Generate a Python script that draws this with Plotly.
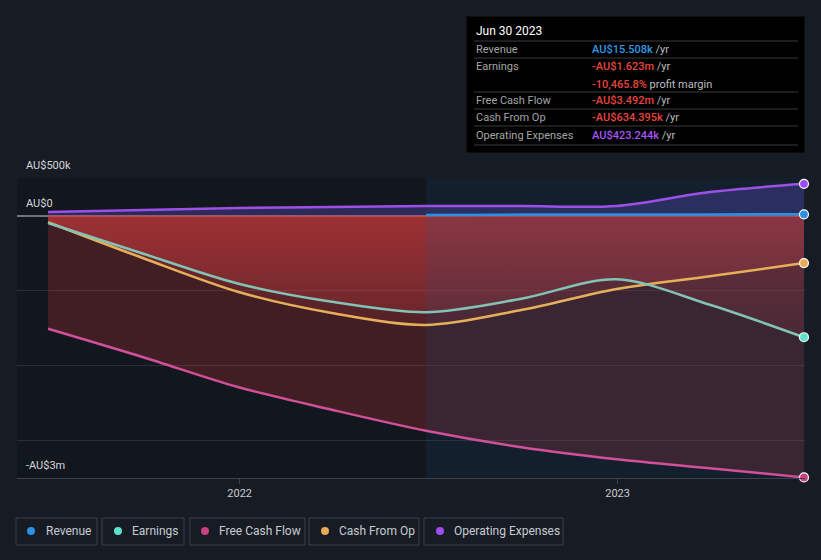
import plotly.graph_objects as go

# ---------------- data (AU$ millions) ----------------
dates = ["2021-06-30", "2021-09-30", "2021-12-31", "2022-03-31", "2022-06-30",
         "2022-09-30", "2022-12-31", "2023-03-31", "2023-06-30"]
revenue = [None, None, None, None, 0.008, 0.012, 0.014, 0.015, 0.0155]
earnings = [-0.10, -0.51, -0.91, -1.15, -1.29, -1.11, -0.85, -1.19, -1.623]
free_cash_flow = [-1.51, -1.89, -2.29, -2.59, -2.87, -3.09, -3.25, -3.37, -3.492]
cash_from_op = [-0.09, -0.57, -1.02, -1.30, -1.46, -1.26, -0.98, -0.81, -0.634]
operating_expenses = [0.047, 0.073, 0.10, 0.113, 0.127, 0.127, 0.127, 0.313, 0.423]

series_names = ["Revenue", "Earnings", "Free Cash Flow", "Cash From Op", "Operating Expenses"]
x_ticks = ["2022-01-01", "2023-01-01"]
x_tick_labels = ["2022", "2023"]
y_labels = ["AU$500k", "AU$0", "-AU$3m"]

tooltip_title = "Jun 30 2023"
tooltip_labels = ["Revenue", "Earnings", "", "Free Cash Flow", "Cash From Op", "Operating Expenses"]
tooltip_values = ["AU$15.508k", "-AU$1.623m", "-10,465.8%", "-AU$3.492m", "-AU$634.395k", "AU$423.244k"]
tooltip_suffix = ["/yr", "/yr", "profit margin", "/yr", "/yr", "/yr"]

# ---------------- style ----------------
FONT = "Roboto, 'Noto Sans', sans-serif"
PAPER_BG = "#161b24"
PLOT_BG = "#12161d"
line_colors = {"Revenue": "#2f8fe0", "Earnings": "#84c2b6", "Free Cash Flow": "#d2509a",
               "Cash From Op": "#e6b05a", "Operating Expenses": "#9d50e8"}
dot_colors = {"Revenue": "#2f8fe0", "Earnings": "#5de0cc", "Free Cash Flow": "#c8407f",
              "Cash From Op": "#e8aa55", "Operating Expenses": "#9d4ded"}
value_colors = ["#3399e6", "#e8453f", "#e8453f", "#e8453f", "#e8453f", "#a855f7"]

W, H = 821, 560
L, R, T, B = 17, 16, 178, 82
PW, PH = W - L - R, H - T - B
Y_RANGE = [-3.5, 0.5]
X_RANGE = ["2021-05-31", "2023-07-01"]


def px_x(px):
    return (px - L) / PW


def px_y(py):
    return (H - B - py) / PH


fig = go.Figure()

data = {"Revenue": revenue, "Earnings": earnings, "Free Cash Flow": free_cash_flow,
        "Cash From Op": cash_from_op, "Operating Expenses": operating_expenses}

# fills
fig.add_trace(go.Scatter(x=dates, y=free_cash_flow, mode="none", fill="tozeroy",
                         fillcolor="rgba(205,55,60,0.25)", line_shape="spline",
                         hoverinfo="skip"))
for name in ["Earnings", "Cash From Op"]:
    fig.add_trace(go.Scatter(x=dates, y=data[name], mode="none", fill="tozeroy",
                             line_shape="spline", hoverinfo="skip",
                             fillgradient=dict(type="vertical",
                                               colorscale=[[0, "rgba(215,60,62,0.12)"],
                                                           [1, "rgba(215,60,62,0.38)"]])))
fig.add_trace(go.Scatter(x=dates, y=operating_expenses, mode="none", fill="tozeroy",
                         fillcolor="rgba(110,85,225,0.30)", line_shape="spline",
                         hoverinfo="skip"))
fig.add_trace(go.Scatter(x=dates, y=revenue, mode="none", fill="tozeroy",
                         fillcolor="rgba(47,143,224,0.3)", line_shape="spline",
                         hoverinfo="skip"))

# highlight of last 12 months (overlay between fills and lines)
hx0 = dates[4]
fig.add_trace(go.Scatter(x=[hx0, X_RANGE[1], X_RANGE[1], hx0, hx0],
                         y=[Y_RANGE[0], Y_RANGE[0], Y_RANGE[1], Y_RANGE[1], Y_RANGE[0]],
                         mode="none", fill="toself", fillcolor="rgba(30,90,140,0.15)",
                         hoverinfo="skip"))

# lines
for name in ["Free Cash Flow", "Cash From Op", "Earnings", "Operating Expenses", "Revenue"]:
    fig.add_trace(go.Scatter(x=dates, y=data[name], mode="lines",
                             line=dict(color=line_colors[name], width=2.5, shape="spline",
                                       smoothing=0.9),
                             hoverinfo="skip", cliponaxis=False))

# end markers
for name in ["Free Cash Flow", "Cash From Op", "Earnings", "Operating Expenses", "Revenue"]:
    fig.add_trace(go.Scatter(x=[dates[-1]], y=[data[name][-1]], mode="markers",
                             marker=dict(size=9, color=dot_colors[name],
                                         line=dict(color="#ffffff", width=1.2)),
                             hoverinfo="skip", cliponaxis=False))

shapes = []
annotations = []

# y-axis labels
for txt, py in zip(y_labels, [165, 203, 465]):
    annotations.append(dict(x=px_x(24), y=px_y(py), xref="paper", yref="paper",
                            text=txt, showarrow=False, xanchor="left", yanchor="middle",
                            font=dict(family=FONT, size=11, color="#d5d8dc")))

# tooltip box
shapes.append(dict(type="rect", xref="paper", yref="paper",
                   x0=px_x(466), x1=px_x(805), y0=px_y(153), y1=px_y(16),
                   fillcolor="#000000", line=dict(color="#1c1c1c", width=1), layer="above"))
for py in [41, 58, 92, 109, 126, 145]:
    shapes.append(dict(type="line", xref="paper", yref="paper",
                       x0=px_x(474), x1=px_x(798), y0=px_y(py), y1=px_y(py),
                       line=dict(color="#3a3a3a", width=1), layer="above"))
annotations.append(dict(x=px_x(474), y=px_y(31), xref="paper", yref="paper",
                        text=tooltip_title, showarrow=False, xanchor="left", yanchor="middle",
                        font=dict(family=FONT, size=12, color="#ffffff")))
row_y = [49, 66.5, 84, 100.5, 117.5, 135]
for lab, val, suf, col, py in zip(tooltip_labels, tooltip_values, tooltip_suffix,
                                  value_colors, row_y):
    if lab:
        annotations.append(dict(x=px_x(474), y=px_y(py), xref="paper", yref="paper",
                                text=lab, showarrow=False, xanchor="left", yanchor="middle",
                                font=dict(family=FONT, size=11, color="#a6a6a6")))
    annotations.append(dict(x=px_x(590), y=px_y(py), xref="paper", yref="paper",
                            text=f'<span style="color:{col};font-weight:500">{val}</span> '
                                 f'<span style="color:#bdbdbd">{suf}</span>',
                            showarrow=False, xanchor="left", yanchor="middle",
                            font=dict(family=FONT, size=11, color="#bdbdbd")))

# legend boxes: (box left, box right, dot centre, text start)
legend_boxes = [(16, 97, 31, 44), (102, 184, 118, 130), (190, 305, 205, 217),
                (309, 419, 325, 337), (424, 563, 440, 452)]
ly0, ly1, lyc = 518, 545, 531
for name, (bx0, bx1, dcx, tx) in zip(series_names, legend_boxes):
    shapes.append(dict(type="rect", xref="paper", yref="paper",
                       x0=px_x(bx0), x1=px_x(bx1), y0=px_y(ly1), y1=px_y(ly0),
                       line=dict(color="#3b404a", width=1), fillcolor="rgba(0,0,0,0)"))
    shapes.append(dict(type="circle", xref="paper", yref="paper",
                       x0=px_x(dcx - 4), x1=px_x(dcx + 4), y0=px_y(lyc + 4), y1=px_y(lyc - 4),
                       line=dict(width=0), fillcolor=dot_colors[name]))
    annotations.append(dict(x=px_x(tx), y=px_y(lyc), xref="paper", yref="paper",
                            text=name, showarrow=False, xanchor="left", yanchor="middle",
                            font=dict(family=FONT, size=12, color="#c8ccd2")))

fig.update_layout(
    width=W, height=H,
    margin=dict(l=L, r=R, t=T, b=B, pad=0),
    paper_bgcolor=PAPER_BG, plot_bgcolor=PLOT_BG,
    showlegend=False,
    shapes=shapes, annotations=annotations,
    font=dict(family=FONT),
    xaxis=dict(type="date", range=X_RANGE, tickvals=x_ticks, ticktext=x_tick_labels,
               showgrid=False, zeroline=False, showline=True, linecolor="#3c414b",
               linewidth=1, ticks="outside", ticklen=5, tickcolor="#3c414b",
               tickfont=dict(family=FONT, size=11, color="#c9cdd2"), fixedrange=True),
    yaxis=dict(range=Y_RANGE, tickvals=[0.5, -1, -2, -3], showticklabels=False,
               showgrid=True, gridcolor="#2a2e37", gridwidth=1,
               zeroline=True, zerolinecolor="#70747c", zerolinewidth=2,
               showline=False, fixedrange=True),
)

fig.write_html("out.html", config={"displayModeBar": False},
               post_script="document.body.style.margin='0';"
                           "document.body.style.background='" + PAPER_BG + "';")
